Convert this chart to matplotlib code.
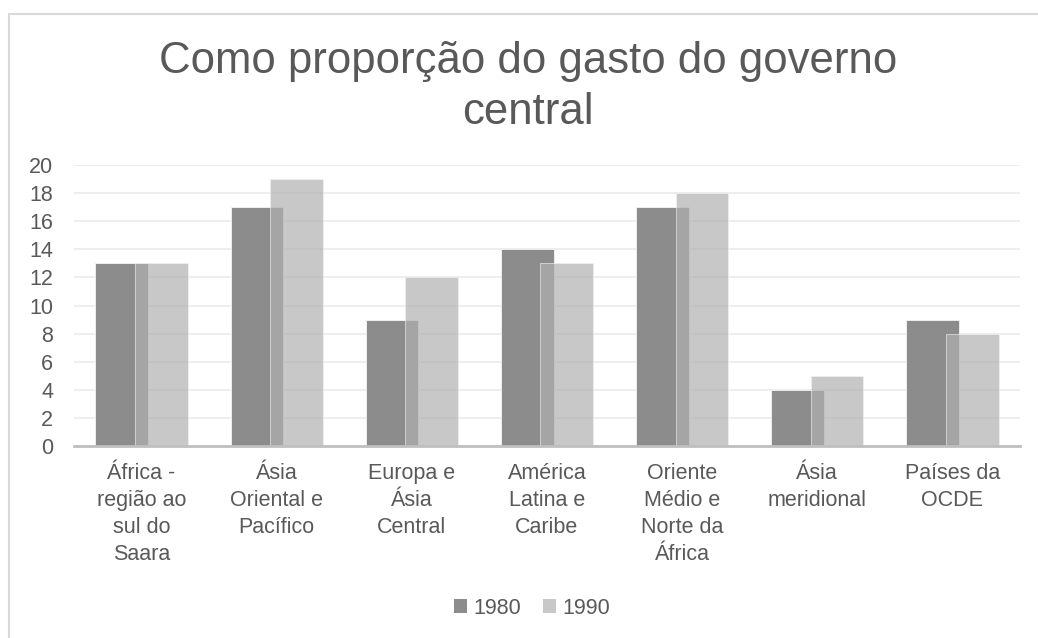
import numpy as np
import matplotlib
matplotlib.use('Agg')
import matplotlib.pyplot as plt
from matplotlib.patches import Rectangle, Patch

plt.rcParams['font.family'] = ['Liberation Sans', 'DejaVu Sans']

regioes = ['África -\nregião ao\nsul do\nSaara', 'Ásia\nOriental e\nPacífico', 'Europa e\nÁsia\nCentral',
           'América\nLatina e\nCaribe', 'Oriente\nMédio e\nNorte da\nÁfrica', 'Ásia\nmeridional',
           'Países da\nOCDE']
gasto_1980 = [13, 17, 9, 14, 17, 4, 9]
gasto_1990 = [13, 19, 12, 13, 18, 5, 8]
yticks = list(range(0, 21, 2))

text_col = '#595959'
W, H = 1038, 638
fs = 15.5

fig = plt.figure(figsize=(W / 100, H / 100), dpi=100)
fig.patch.set_facecolor('white')

# chart area border (runs off the right and bottom edges)
fig.patches.append(Rectangle((8.5 / W, -0.05), 1.1, (H - 13.5) / H + 0.05, transform=fig.transFigure,
                             fill=False, edgecolor='#d9d9d9', linewidth=1.5))

ax = fig.add_axes([74 / W, 192 / H, (1020 - 74) / W, (446 - 165) / H])

x = np.arange(len(regioes))
width = 0.39
off = 0.146
ax.bar(x - off, gasto_1980, width, color='#8c8c8c', edgecolor='#f4f4f4', linewidth=0.6, zorder=2, label='1980')
ax.bar(x + off, gasto_1990, width, color='#b1b1b1', alpha=0.7, edgecolor='#f4f4f4', linewidth=0.6,
       zorder=3, label='1990')

ax.set_xlim(-0.5, len(regioes) - 0.5)
ax.set_ylim(0, 20)
ax.set_yticks(yticks)
ax.yaxis.grid(True, color='#eeeeee', linewidth=1.5, zorder=0)
ax.set_axisbelow(True)
for s in ['top', 'right', 'left']:
    ax.spines[s].set_visible(False)
ax.spines['bottom'].set_color('#bfbfbf')
ax.spines['bottom'].set_linewidth(2)
ax.spines['bottom'].set_zorder(4)
ax.tick_params(axis='both', length=0, labelsize=fs, colors=text_col)
ax.tick_params(axis='y', pad=15)
ax.tick_params(axis='x', pad=12)
ax.set_xticks(x)
ax.set_xticklabels(regioes, linespacing=1.38)

fig.text(528 / W, 1 - 41 / H, 'Como proporção do gasto do governo\ncentral', ha='center', va='top',
         fontsize=31.5, color=text_col, linespacing=1.3)

handles = [Patch(facecolor='#8c8c8c'), Patch(facecolor='#c8c8c8')]
fig.legend(handles, ['1980', '1990'], loc='center', bbox_to_anchor=(532 / W, 30 / H), ncol=2,
           frameon=False, fontsize=fs, labelcolor=text_col, handlelength=0.6, handleheight=0.6,
           handletextpad=0.3, columnspacing=1.0)

fig.savefig('out.png', dpi=100)
